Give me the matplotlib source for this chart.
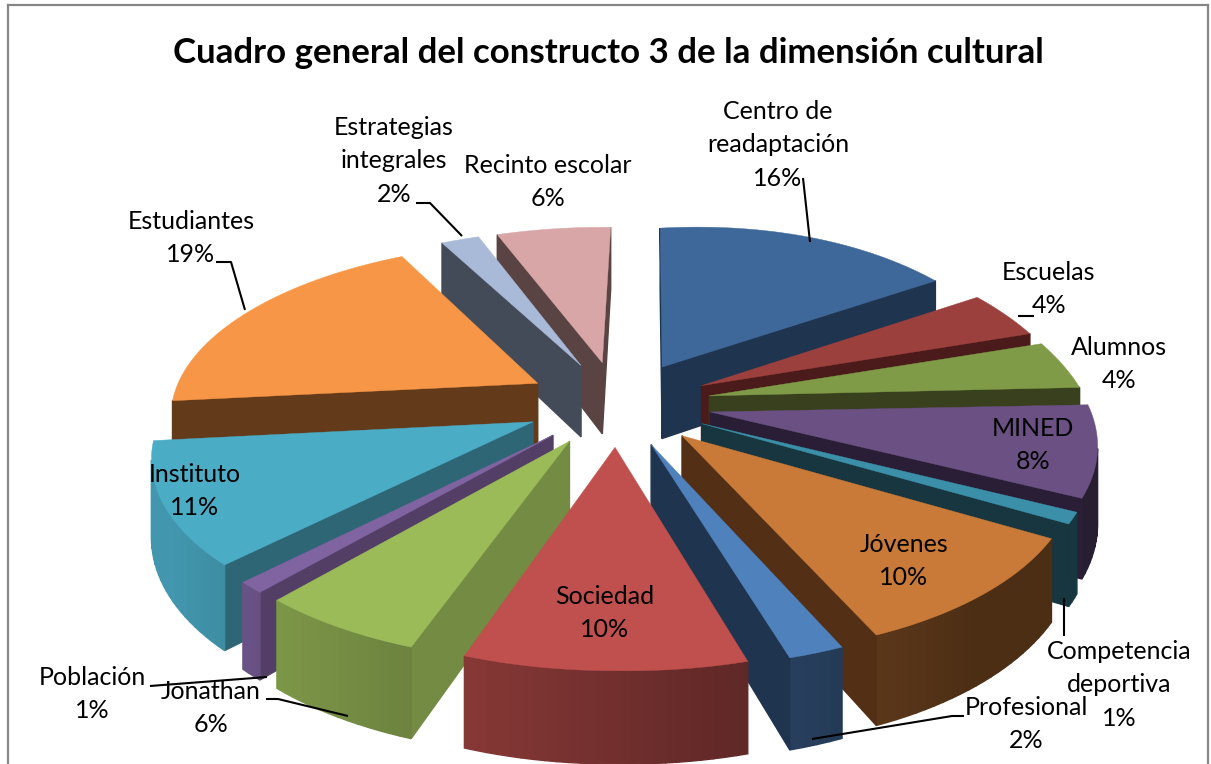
import numpy as np
import matplotlib
matplotlib.use('Agg')
import matplotlib.pyplot as plt
from matplotlib.colors import to_rgb

# data, clockwise from the top of the pie
names = ['Centro de\nreadaptación', 'Escuelas', 'Alumnos', 'MINED', 'Competencia\ndeportiva',
         'Jóvenes', 'Profesional', 'Sociedad', 'Jonathan', 'Población', 'Instituto',
         'Estudiantes', 'Estrategias\nintegrales', 'Recinto escolar']
values = [16, 4, 4, 8, 1, 10, 2, 10, 6, 1, 11, 19, 2, 6]
title = 'Cuadro general del constructo 3 de la dimensión cultural'

# styles
top_colors = ['#3F689A', '#9C403D', '#7F9B48', '#6A5083', '#3B8FA8', '#C97A38', '#4F81BD',
              '#C0504D', '#9BBB59', '#8064A2', '#4BACC6', '#F79646', '#A9B9D8', '#D8A6A6']
side_colors = ['#1F344F', '#4A1B1A', '#38401E', '#291E35', '#17363F', '#522F15', '#1F344F',
               '#5E2524', '#748B44', '#533E66', '#2F6676', '#633A1A', '#444B58', '#5A4443']

# label centres and leader lines, in pixels
label_pos = [(778, 145), (1049, 289), (1119, 364), (1033, 445), (1119, 685), (904, 561), (1026, 724),
             (605, 613), (211, 708), (92, 694), (195, 491), (191, 238), (394, 161), (548, 182)]
leaders = [[(803, 178), (810, 242)],
           [(1034, 316), (1018, 316)],
           [(1064, 598), (1064, 636)],
           [(812, 739), (952, 716), (964, 716)],
           [(150, 686), (267, 677)],
           [(266, 699), (278, 699), (348, 716)],
           [(216, 262), (231, 262), (245, 310)],
           [(416, 203), (430, 203), (462, 236)]]

# fake 3d projection of the exploded pie
cx, cy = 617, 403
rx, ry = 380, 170
left_squeeze = 0.965
persp = 0.165
thick = 74
explode = 0.25
rotation = np.radians(1.2)


def project(x, y, drop=0.0):
    s = 1 / (1 + persp * y)
    sx = rx * x * s
    sy = -ry * y * s
    if sx < 0:
        sx = sx * left_squeeze
    elif y > 0:
        # back right part sits a bit tighter and higher in the original
        sx = sx * (0.995 - 0.05 * y)
        sy = sy - 15 * x * y
    else:
        sx = sx * (0.995 + 0.02 * y)
        sy = sy - 6 * x * y
    return cx + sx, cy + sy + drop * s


fig = plt.figure(figsize=(12.11, 7.64), dpi=100)
ax = fig.add_axes([0, 0, 1, 1])
ax.set_xlim(0, 1211)
ax.set_ylim(764, 0)
ax.axis('off')

# chart frame
ax.plot([8, 8], [764, 5], color='#868686', lw=1.6)
ax.plot([8, 1208], [5, 5], color='#868686', lw=1.6)
ax.plot([1208, 1208], [5, 764], color='#868686', lw=1.6)

edges = np.cumsum([0] + values) / sum(values) * 2 * np.pi + rotation
slices = []
for i in range(len(values)):
    a0, a1 = edges[i], edges[i + 1]
    mid = (a0 + a1) / 2
    slices.append((np.cos(mid), i, a0, a1, mid))

# back slices first
for depth, i, a0, a1, mid in sorted(slices, key=lambda t: -t[0]):
    ox, oy = explode * np.sin(mid), explode * np.cos(mid)
    ang = np.linspace(a0, a1, max(4, int((a1 - a0) * 40)))
    xs = np.concatenate([[ox], ox + np.sin(ang), [ox]])
    ys = np.concatenate([[oy], oy + np.cos(ang), [oy]])
    top = np.array([project(x, y) for x, y in zip(xs, ys)])
    bot = np.array([project(x, y, thick) for x, y in zip(xs, ys)])
    base = np.array(to_rgb(top_colors[i]))
    for j in range(len(xs) - 1):
        quad = np.array([top[j], top[j + 1], bot[j + 1], bot[j]])
        area = 0.5 * np.sum(quad[:, 0] * np.roll(quad[:, 1], -1) - np.roll(quad[:, 0], -1) * quad[:, 1])
        if area > 0:
            continue
        if j == 0 or j == len(xs) - 2:
            col = side_colors[i]
        else:
            nx = np.sin((ang[j - 1] + ang[j]) / 2)
            col = base * np.clip(0.59 - 0.33 * nx, 0.38, 0.88)
        ax.fill(quad[:, 0], quad[:, 1], color=col, lw=1.0)
    ax.fill(top[:-1, 0], top[:-1, 1], color=top_colors[i], lw=0.3)

for pts in leaders:
    ax.plot([p[0] for p in pts], [p[1] for p in pts], color='black', lw=1.5, solid_capstyle='butt')

font = 'Lato'
for name, val, pos in zip(names, values, label_pos):
    ax.text(pos[0], pos[1], f'{name}\n{val}%', ha='center', va='center', fontsize=18,
            family=font, linespacing=1.55, color='black')
ax.text(608, 53, title, ha='center', va='center', fontsize=25.1, fontweight='bold', family=font, color='black')

fig.savefig('out.png', dpi=100)
